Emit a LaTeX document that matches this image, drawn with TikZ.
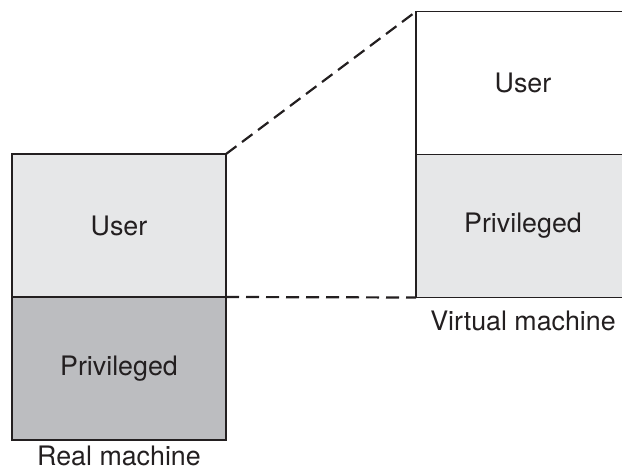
\documentclass[tikz,border=0pt]{standalone}
\usepackage{fontspec}
\setmainfont{TeX Gyre Heros}
\usetikzlibrary{positioning}
\definecolor{lightg}{HTML}{E6E7E8}
\definecolor{darkg}{HTML}{BCBDC0}
\definecolor{linec}{HTML}{231F20}

\begin{document}
\begin{tikzpicture}[x=0.5pt, y=-0.5pt, font=\fontsize{13.4}{15}\selectfont,
		box/.style={draw=linec, line width=0.75pt, minimum width=107pt, minimum height=71.5pt, inner sep=0pt, outer sep=0pt, text=linec},
		link/.style={draw=linec, line width=1.1pt, dash pattern=on 6.5pt off 3.5pt}]
			\useasboundingbox (0,0) rectangle (622,471);
			\node[box,fill=lightg] (realuser) at (119,225.5) {User};
			\node[box,fill=darkg] (realpriv) [below=0pt of realuser] {Privileged};
			\node[box,fill=white] (virtuser) at (523,83) {User};
			\node[box,fill=lightg] (virtpriv) [below=0pt of virtuser] {Privileged};
			\node[text=linec,inner sep=1pt] (reallabel) [below=2pt of realpriv] {Real machine};
			\node[text=linec] (virtlabel) [below=3pt of virtpriv] {Virtual machine};

			\path[link]
			(realuser.north east) edge (virtuser.north west)
			(realuser.south east) edge (virtpriv.south west);
		\end{tikzpicture}
\end{document}
